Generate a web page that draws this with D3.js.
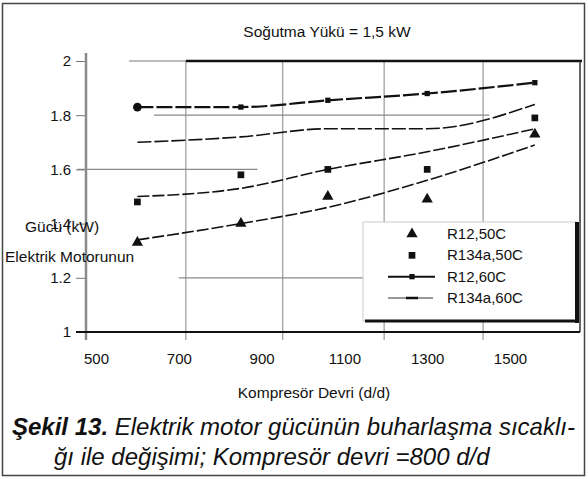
<!DOCTYPE html>
<html>
<head>
<meta charset="utf-8">
<script src="https://cdn.jsdelivr.net/npm/d3@7"></script>
<style>
  body { margin: 0; background: #fff; }
  text { font-family: "Liberation Sans", Arial, sans-serif; fill: #111; }
</style>
</head>
<body>
<script>
// data
var speeds = [600, 850, 1060, 1300, 1560];          // kompresör devri (d/d)
var r12_50 = [1.33, 1.40, 1.50, 1.49, 1.73];
var r134a_50 = [1.48, 1.58, 1.60, 1.60, 1.79];
var r12_60 = [1.83, 1.83, 1.855, 1.88, 1.92];
var r134a_60 = [1.70, 1.72, 1.75, 1.75, 1.84];
// trend lines through the 50C points
var trend_r12_50 = [1.34, 1.40, 1.46, 1.56, 1.69];
var trend_r134a_50 = [1.50, 1.53, 1.60, 1.665, 1.75];

var xTicks = [500, 700, 900, 1100, 1300, 1500];
var yTicks = [1, 1.2, 1.4, 1.6, 1.8, 2];
var gridX = [717, 951, 1196, 1435];
var legendNames = ["R12,50C", "R134a,50C", "R12,60C", "R134a,60C"];

var svgWidth = 588, svgHeight = 479;

var svg = d3.select("body").append("svg")
    .attr("width", svgWidth)
    .attr("height", svgHeight);

// outer frame
svg.append("rect")
    .attr("x", 2.5).attr("y", 3.5)
    .attr("width", 582).attr("height", 472)
    .attr("fill", "none").attr("stroke", "#444").attr("stroke-width", 1.5);

var x = d3.scaleLinear().domain([500, 1500]).range([96, 510]);
var y = d3.scaleLinear().domain([1, 2]).range([332, 61]);

var xLeft = x.invert(86), xRight = x.invert(580);

// vertical grid lines
svg.selectAll(".gridx")
    .data(gridX)
    .enter()
    .append("line")
    .attr("x1", d => x(d)).attr("x2", d => x(d))
    .attr("y1", y(2)).attr("y2", y(1) + 8)
    .attr("stroke", "#9a9a9a").attr("stroke-width", 1.2);

// partial horizontal grid lines (as in the scan)
var hGrid = [[1.8, 640, 1450], [1.6, 455, 890], [1.2, 700, 1150]];
svg.selectAll(".gridy")
    .data(hGrid)
    .enter()
    .append("line")
    .attr("x1", d => x(d[1])).attr("x2", d => x(d[2]))
    .attr("y1", d => y(d[0])).attr("y2", d => y(d[0]))
    .attr("stroke", "#8a8a8a").attr("stroke-width", 1.2);

// plot frame: top and right edges
svg.append("line")
    .attr("x1", x(580)).attr("x2", x(717))
    .attr("y1", y(2)).attr("y2", y(2))
    .attr("stroke", "#bbb").attr("stroke-width", 2);
svg.append("line")
    .attr("x1", x(717)).attr("x2", x(xRight) + 2)
    .attr("y1", y(2)).attr("y2", y(2))
    .attr("stroke", "#111").attr("stroke-width", 2.5);
svg.append("line")
    .attr("x1", x(xRight)).attr("x2", x(xRight))
    .attr("y1", y(2)).attr("y2", y(1))
    .attr("stroke", "#333").attr("stroke-width", 1.5);

// y axis
var leftAxis = d3.axisLeft(y).tickValues(yTicks).tickFormat(d => d).tickSize(10).tickPadding(5);
var gy = svg.append("g")
    .attr("transform", `translate(${x(xLeft)},0)`)
    .call(leftAxis);
gy.select(".domain").remove();
gy.selectAll("line").attr("stroke", "#777");
gy.selectAll("text").attr("font-size", "15px").attr("fill", "#111");

svg.append("line")
    .attr("x1", x(xLeft)).attr("x2", x(xLeft))
    .attr("y1", y(2) - 8).attr("y2", y(1) + 8)
    .attr("stroke", "#8a8a8a").attr("stroke-width", 2.5);

// x axis
var bottomAxis = d3.axisBottom(x).tickValues(xTicks).tickFormat(d3.format("d")).tickSize(0).tickPadding(21);
var gx = svg.append("g")
    .attr("transform", `translate(0,${y(1)})`)
    .call(bottomAxis);
gx.select(".domain").remove();
gx.selectAll("text").attr("font-size", "15px").attr("fill", "#111");

svg.append("line")
    .attr("x1", x(xLeft) - 10).attr("x2", x(xRight))
    .attr("y1", y(1)).attr("y2", y(1))
    .attr("stroke", "#111").attr("stroke-width", 2);

// lines
var line = d3.line().curve(d3.curveMonotoneX);
function pts(vals) { return speeds.map((s, i) => [x(s), y(vals[i])]); }

var lineSpecs = [
    { vals: r12_60, w: 2.2, dash: "16,3" },
    { vals: r134a_60, w: 1.6, dash: "14,3" },
    { vals: trend_r134a_50, w: 1.6, dash: "12,3" },
    { vals: trend_r12_50, w: 1.6, dash: "12,3" }
];
svg.selectAll(".series")
    .data(lineSpecs)
    .enter()
    .append("path")
    .attr("d", d => line(pts(d.vals)))
    .attr("fill", "none")
    .attr("stroke", "#111")
    .attr("stroke-width", d => d.w)
    .attr("stroke-dasharray", d => d.dash);

// markers
var tri = d3.symbol().type(d3.symbolTriangle).size(55);
var sq = d3.symbol().type(d3.symbolSquare).size(45);
var sqSmall = d3.symbol().type(d3.symbolSquare).size(28);

svg.selectAll(".m1").data(r12_50).enter().append("path")
    .attr("d", tri)
    .attr("transform", (d, i) => `translate(${x(speeds[i])},${y(d)})`)
    .attr("fill", "#111");
svg.selectAll(".m2").data(r134a_50).enter().append("path")
    .attr("d", sq)
    .attr("transform", (d, i) => `translate(${x(speeds[i])},${y(d)})`)
    .attr("fill", "#111");
svg.selectAll(".m3").data(r12_60).enter().append("path")
    .attr("d", (d, i) => i === 0 ? d3.symbol().type(d3.symbolCircle).size(60)() : sqSmall())
    .attr("transform", (d, i) => `translate(${x(speeds[i])},${y(d)})`)
    .attr("fill", "#111");

// legend
var lg = svg.append("g");
lg.append("rect")
    .attr("x", 363).attr("y", 222).attr("width", 214).attr("height", 99)
    .attr("fill", "#fff").attr("stroke", "#ccc").attr("stroke-width", 1);
lg.append("line").attr("x1", 577).attr("x2", 577).attr("y1", 222).attr("y2", 323)
    .attr("stroke", "#111").attr("stroke-width", 4);
lg.append("line").attr("x1", 365).attr("x2", 579).attr("y1", 321).attr("y2", 321)
    .attr("stroke", "#111").attr("stroke-width", 3);

var legendY = d3.scalePoint().domain(legendNames).range([234, 298]);
lg.selectAll(".lt").data(legendNames).enter().append("text")
    .attr("x", 447).attr("y", d => legendY(d) + 5)
    .attr("font-size", "15px")
    .text(d => d);
lg.append("path").attr("d", tri)
    .attr("transform", `translate(412,${legendY("R12,50C")})`).attr("fill", "#111");
lg.append("path").attr("d", sq)
    .attr("transform", `translate(412,${legendY("R134a,50C")})`).attr("fill", "#111");
lg.append("line").attr("x1", 388).attr("x2", 435)
    .attr("y1", legendY("R12,60C")).attr("y2", legendY("R12,60C"))
    .attr("stroke", "#111").attr("stroke-width", 2);
lg.append("path").attr("d", sqSmall)
    .attr("transform", `translate(412,${legendY("R12,60C")})`).attr("fill", "#111");
lg.append("line").attr("x1", 388).attr("x2", 433)
    .attr("y1", legendY("R134a,60C")).attr("y2", legendY("R134a,60C"))
    .attr("stroke", "#333").attr("stroke-width", 1.2);
lg.append("line").attr("x1", 406).attr("x2", 418)
    .attr("y1", legendY("R134a,60C")).attr("y2", legendY("R134a,60C"))
    .attr("stroke", "#111").attr("stroke-width", 2.5);

// title and axis titles
svg.append("text")
    .attr("x", 327).attr("y", 37)
    .attr("text-anchor", "middle").attr("font-size", "15.5px")
    .text("Soğutma Yükü = 1,5 kW");

svg.append("text")
    .attr("x", 25).attr("y", 232)
    .attr("font-size", "15.5px")
    .text("Gücü (kW)");
svg.append("text")
    .attr("x", 5).attr("y", 262)
    .attr("font-size", "15.5px")
    .text("Elektrik Motorunun");

svg.append("text")
    .attr("x", 314).attr("y", 398)
    .attr("text-anchor", "middle").attr("font-size", "15.5px")
    .text("Kompresör Devri (d/d)");

// caption
var cap = svg.append("text")
    .attr("x", 12).attr("y", 435)
    .attr("font-size", "24px").attr("font-style", "italic");
cap.append("tspan").attr("font-weight", "bold").text("Şekil 13.");
cap.append("tspan").text(" Elektrik motor gücünün buharlaşma sıcaklı-");
svg.append("text")
    .attr("x", 54).attr("y", 465)
    .attr("font-size", "24px").attr("font-style", "italic")
    .text("ğı ile değişimi; Kompresör devri =800 d/d");
</script>
</body>
</html>
